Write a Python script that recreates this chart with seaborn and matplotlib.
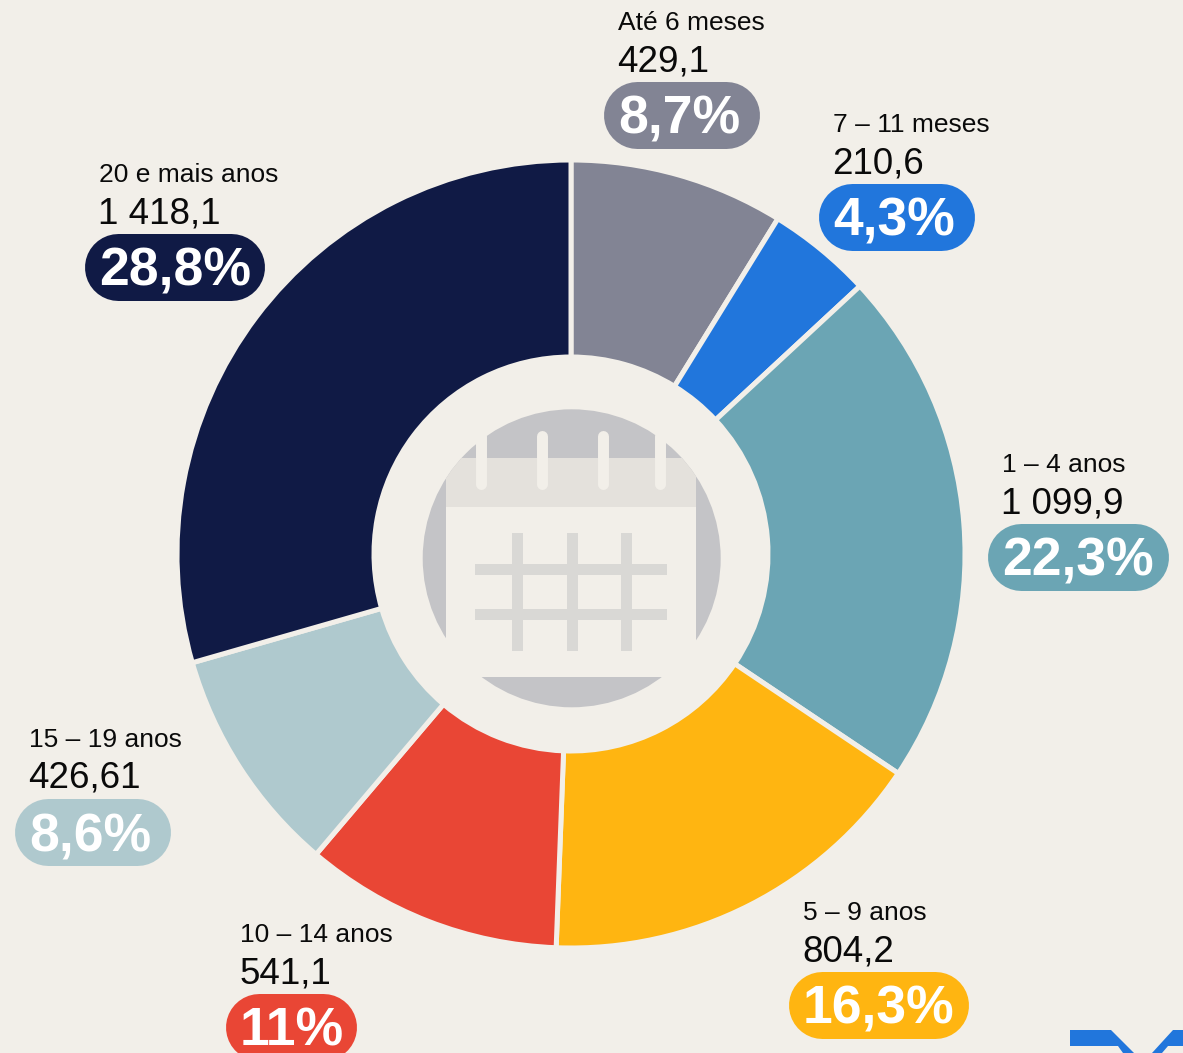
import matplotlib
matplotlib.use("Agg")
import matplotlib.pyplot as plt
import seaborn as sns
from matplotlib.patches import Circle, Polygon, Rectangle

# Labels from the chart, clockwise from the top
categories = ["Até 6 meses", "7 – 11 meses", "1 – 4 anos", "5 – 9 anos",
              "10 – 14 anos", "15 – 19 anos", "20 e mais anos"]
value_labels = ["429,1", "210,6", "1 099,9", "804,2", "541,1", "426,61", "1 418,1"]
pct_labels = ["8,7%", "4,3%", "22,3%", "16,3%", "11%", "8,6%", "28,8%"]
# Slice sizes (they differ a bit from the printed numbers)
slice_shares = [8.8, 4.3, 21.3, 16.2, 10.6, 9.35, 29.45]
colors = ["#828494", "#2176DC", "#6BA5B4", "#FFB511", "#E94635", "#AFC9CE", "#101A45"]

# Pill boxes in pixels: left, top, width
pill_left = [604, 819, 988, 789, 226, 15, 85]
pill_top = [82, 184, 524, 972, 994, 799, 234]
pill_width = [156, 156, 181, 180, 131, 156, 180]

BG = "#F2EFE9"
PILL_H = 67

sns.set_theme(style="white")
plt.rcParams["font.family"] = ["Liberation Sans", "DejaVu Sans"]

fig = plt.figure(figsize=(11.83, 10.53), dpi=100, facecolor=BG)
ax = fig.add_axes([0, 0, 1, 1])

# y axis runs downwards, so counterclockwise here is clockwise on screen
ax.pie(slice_shares, colors=sns.color_palette(colors), startangle=-90, center=(571, 554), radius=394,
       wedgeprops=dict(width=197, edgecolor=BG, linewidth=3.6))
ax.set_xlim(0, 1183)
ax.set_ylim(1053, 0)
ax.set_aspect("equal")
ax.axis("off")

# Labels and pills
for i in range(len(categories)):
    x, top, w = pill_left[i], pill_top[i], pill_width[i]
    r = PILL_H / 2
    ax.plot([x + r, x + w - r], [top + r - 1, top + r - 1], color=colors[i], lw=PILL_H * 0.72,
            solid_capstyle="round", zorder=3)
    ax.text(x + 14, top - 52, categories[i], fontsize=19, color="#0A0A0A", va="baseline", zorder=4)
    ax.text(x + 13.5, top - 11, value_labels[i], fontsize=26.5, color="#0A0A0A", va="baseline", zorder=4)
    ax.text(x + 14, top + 52, pct_labels[i], fontsize=38.5, fontweight="bold", color="white",
            va="baseline", zorder=4)

# Calendar icon in the hole
disc = Circle((571.7, 558.3), 149, fc="#C4C4C7", ec="none", zorder=2)
ax.add_patch(disc)
header = Rectangle((446.3, 457.7), 249.4, 49, fc="#E4E1DC", ec="none", zorder=2.1)
ax.add_patch(header)
header.set_clip_path(disc)
body = Rectangle((446.3, 506.7), 249.4, 170, fc=BG, ec="none", zorder=2.1)
ax.add_patch(body)

for x0 in [481.5, 542.5, 603.5, 660.5]:
    ax.plot([x0, x0], [436, 483.5], color=BG, lw=7.9, solid_capstyle="round", zorder=2.2)
for x0 in [512.3, 566.7, 620.7]:
    ax.add_patch(Rectangle((x0, 533), 11.2, 118, fc="#D9D8D5", ec="none", zorder=2.2))
for y0 in [563.7, 609.3]:
    ax.add_patch(Rectangle((475, y0), 192.3, 11, fc="#D9D8D5", ec="none", zorder=2.2))

# Logo fragment, bottom right
ax.add_patch(Polygon([(1070, 1030), (1111, 1030), (1134, 1053), (1123, 1053), (1118, 1046), (1070, 1046)],
                     closed=True, fc="#2176DC", ec="none", zorder=2))
ax.add_patch(Polygon([(1152, 1053), (1173, 1030), (1183, 1030), (1183, 1046), (1168, 1046), (1162, 1053)],
                     closed=True, fc="#2176DC", ec="none", zorder=2))

fig.savefig("out.png", dpi=100, facecolor=BG)
